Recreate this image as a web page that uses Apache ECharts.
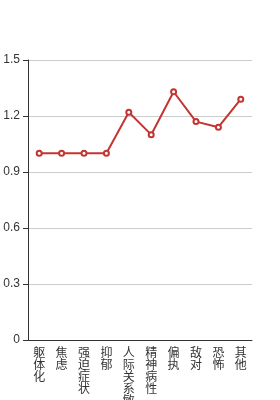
<!DOCTYPE html>
<html><head><meta charset="utf-8">
<script src="https://cdn.jsdelivr.net/npm/echarts@6/dist/echarts.min.js"></script>
<style>html,body{margin:0;padding:0;background:#fff}#c{width:280px;height:400px}</style>
</head><body><div id="c"></div>
<script>
const categories = ['躯体化','焦虑','强迫症状','抑郁','人际关系敏感','精神病性','偏执','敌对','恐怖','其他'];
const values = [1.0, 1.0, 1.0, 1.0, 1.22, 1.1, 1.33, 1.17, 1.14, 1.29];
const yTicks = {min: 0, max: 1.5, interval: 0.3};
const chart = echarts.init(document.getElementById('c'));
chart.setOption({
  animation: false,
  grid: {left: 28, right: 28, top: 60, bottom: 60, containLabel: false, outerBoundsMode: 'none'},
  xAxis: {
    type: 'category', data: categories, boundaryGap: true,
    axisLine: {lineStyle: {color: '#333'}},
    axisTick: {alignWithLabel: false, lineStyle: {color: '#333'}},
    axisLabel: {interval: 0, color: '#333', fontSize: 12, lineHeight: 12,
      fontFamily: 'Noto Sans CJK SC', margin: 6,
      formatter: v => v.split('').join('\n')}
  },
  yAxis: {
    type: 'value', min: yTicks.min, max: yTicks.max, interval: yTicks.interval,
    axisLine: {show: true, lineStyle: {color: '#333'}},
    axisTick: {show: true, lineStyle: {color: '#333'}},
    axisLabel: {color: '#333', fontSize: 12, formatter: v => v === 0 ? '0' : v.toFixed(1)},
    splitLine: {lineStyle: {color: '#ccc'}}
  },
  series: [{
    type: 'line', data: values,
    symbol: 'emptyCircle', symbolSize: 5,
    lineStyle: {color: '#c23531', width: 2},
    itemStyle: {color: '#c23531', borderWidth: 1}
  }]
});
</script></body></html>
